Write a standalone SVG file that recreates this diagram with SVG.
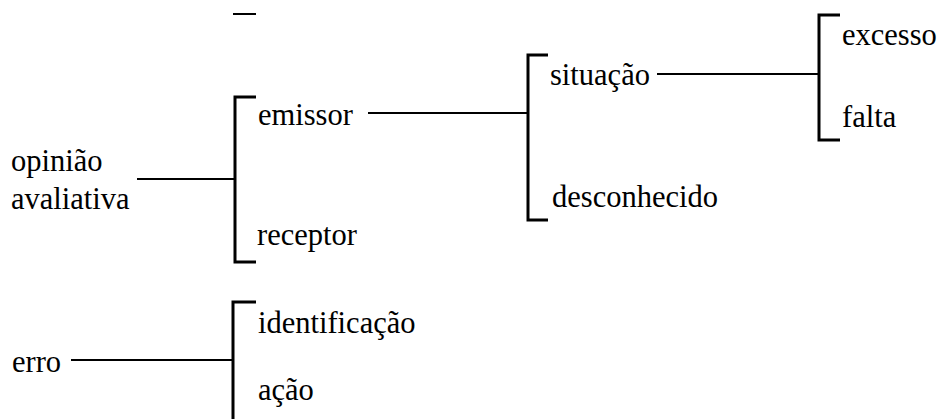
<svg xmlns="http://www.w3.org/2000/svg" width="943" height="419" viewBox="0 0 943 419">
<style>
text{font-family:'Liberation Serif',Tinos,'Times New Roman',Times,'DejaVu Serif',serif;font-size:30.5px;fill:#000}
.br{fill:none;stroke:#000;stroke-width:3}
.cn{fill:none;stroke:#000;stroke-width:2}
</style>
<rect width="943" height="419" fill="#fff"/>
<g id="connectors">
<line class="cn" x1="233" y1="14" x2="256" y2="14"/>
<line class="cn" x1="137" y1="179" x2="235" y2="179"/>
<line class="cn" x1="368" y1="113" x2="528" y2="113"/>
<line class="cn" x1="657" y1="74" x2="819" y2="74"/>
<line class="cn" x1="71" y1="360" x2="233" y2="360"/>
</g>
<g id="bracket-opiniao"><path class="br" d="M256,97 H235 V262 H256"/></g>
<g id="bracket-emissor"><path class="br" d="M548,55 H528 V220 H548"/></g>
<g id="bracket-situacao"><path class="br" d="M840,15 H819 V140 H840"/></g>
<g id="bracket-erro"><path class="br" d="M256,302 H233 V425"/></g>
<g id="node-opiniao"><text x="11" y="171">opinião</text><text x="11" y="209">avaliativa</text></g>
<g id="node-emissor"><text x="258" y="125">emissor</text></g>
<g id="node-receptor"><text x="257" y="245">receptor</text></g>
<g id="node-situacao"><text x="550" y="85">situação</text></g>
<g id="node-desconhecido"><text x="552" y="207">desconhecido</text></g>
<g id="node-excesso"><text x="842" y="45">excesso</text></g>
<g id="node-falta"><text x="842" y="127">falta</text></g>
<g id="node-erro"><text x="12" y="372">erro</text></g>
<g id="node-identificacao"><text x="258" y="333">identificação</text></g>
<g id="node-acao"><text x="258" y="400">ação</text></g>
</svg>
